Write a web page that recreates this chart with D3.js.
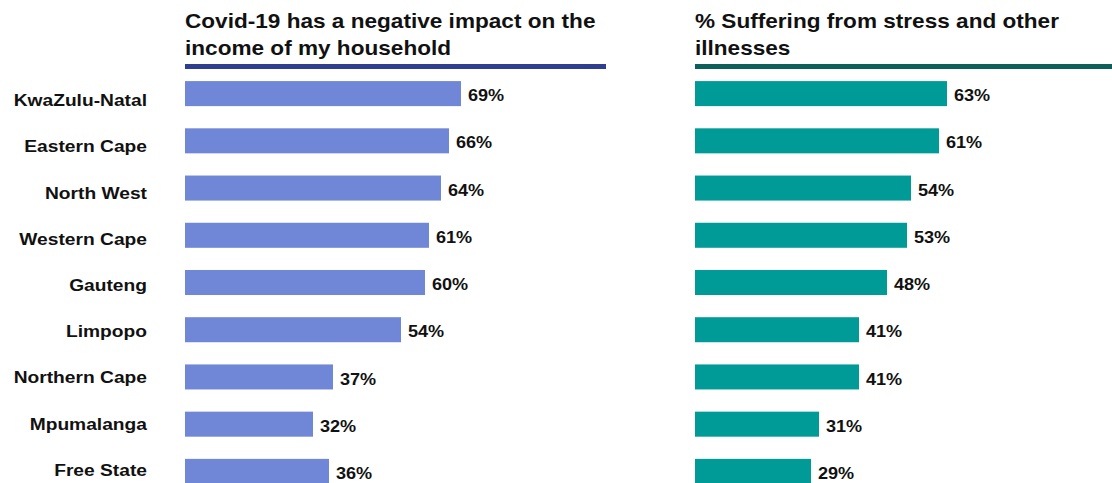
<!DOCTYPE html>
<html><head><meta charset="utf-8">
<script src="https://cdn.jsdelivr.net/npm/d3@7"></script>
<style>body{margin:0;background:#fff;} svg{display:block;font-family:"Liberation Sans",Arial,sans-serif;}</style>
</head><body>
<svg id="c" width="1112" height="483"></svg>
<script>
const provinces = ["KwaZulu-Natal","Eastern Cape","North West","Western Cape","Gauteng","Limpopo","Northern Cape","Mpumalanga","Free State"];
const incomeImpact = [69,66,64,61,60,54,37,32,36];
const stressIllness = [63,61,54,53,48,41,41,31,29];
const titleLeft = ["Covid-19 has a negative impact on the","income of my household"];
const titleRight = ["% Suffering from stress and other","illnesses"];

const SX = 1.13; // horizontal stretch of the original text
const svg = d3.select("#c");
const yBar = d3.scaleBand().domain(provinces).range([70, 495]).paddingInner(0.47).paddingOuter(0.235);
const yLab = d3.scaleBand().domain(provinces).range([77, 493]).padding(0);

svg.append("g").selectAll("text").data(provinces).join("text")
  .attr("transform",d=>`translate(147,${yLab(d)+yLab.bandwidth()/2}) scale(${SX},1)`)
  .attr("dy","0.35em").attr("text-anchor","end")
  .attr("font-size",17).attr("font-weight","bold").attr("fill","#111")
  .text(d=>d);

function panel(x0, lineEnd, values, title, barColor, lineColor){
  const x = d3.scaleLinear().domain([0,100]).range([x0, x0+400]);
  const g = svg.append("g");
  g.selectAll("text.t").data(title).join("text").attr("class","t")
    .attr("transform",(d,i)=>`translate(${x0},${28+i*27}) scale(${SX},1)`)
    .attr("font-size",20).attr("font-weight","bold").attr("fill","#111").text(d=>d);
  g.append("rect").attr("x",x0).attr("y",64).attr("width",lineEnd-x0).attr("height",5).attr("fill",lineColor);
  g.selectAll("rect.b").data(values).join("rect").attr("class","b")
    .attr("x",x(0)).attr("y",(d,i)=>yBar(provinces[i]))
    .attr("width",d=>x(d)-x(0)).attr("height",yBar.bandwidth()).attr("fill",barColor);
  g.selectAll("text.v").data(values).join("text").attr("class","v")
    .attr("transform",(d,i)=>`translate(${x(d)+7},${yBar(provinces[i])+yBar.bandwidth()/2+2}) scale(${SX},1)`)
    .attr("dy","0.35em").attr("font-size",16).attr("font-weight","bold").attr("fill","#111")
    .text(d=>d+"%");
}
panel(185, 606, incomeImpact, titleLeft, "#7086d6", "#2e3f8f");
panel(695, 1112, stressIllness, titleRight, "#009b96", "#0d5f5b");
</script>
</body></html>
